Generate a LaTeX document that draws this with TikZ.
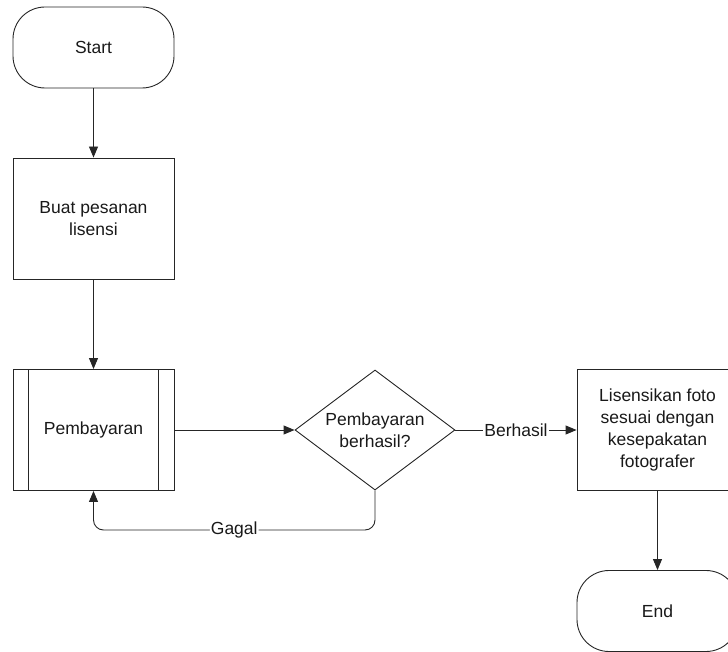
\documentclass[tikz,border=0pt]{standalone}
\usepackage{fontspec}
\setmainfont{Liberation Sans}
\usetikzlibrary{arrows.meta,shapes.geometric}
\begin{document}
\begin{tikzpicture}[x=1pt,y=-1pt,
  every node/.style={font=\fontsize{17.5}{22}\selectfont, text=black!90},
  base/.style={draw=black!85, line width=0.9pt, align=center, inner sep=0pt},
  terminal/.style={base, rectangle, rounded corners=32pt, minimum width=161pt, minimum height=81pt},
  process/.style={base, rectangle, minimum width=161pt, minimum height=121pt},
  decision/.style={base, diamond, aspect=1.333, minimum width=160pt, minimum height=120pt},
  flow/.style={draw=black!85, line width=0.9pt, -{Triangle[length=11pt,width=9pt]}},
  tag/.style={fill=white, inner sep=1pt}]
\useasboundingbox (0,0) rectangle (728,652);

% main column
\node[terminal] (start) at (93.5,47.5) {Start};
\node[process] (order) at (93.5,218.5) {Buat pesanan\\lisensi};
\node[process] (pay) at (93.5,430) {Pembayaran};
\draw[line width=0.9pt, draw=black!85]
  ([xshift=16pt]pay.north west) -- ([xshift=16pt]pay.south west)
  ([xshift=-16pt]pay.north east) -- ([xshift=-16pt]pay.south east);

% decision and success branch
\node[decision] (check) at (375,430) {Pembayaran\\berhasil?};
\node[process] (grant) at (657.5,430) {Lisensikan foto\\sesuai dengan\\kesepakatan\\fotografer};
\node[terminal] (end) at (657.5,611) {End};

% connectors
\draw[flow] (start) -- (order);
\draw[flow] (order) -- (pay);
\draw[flow] (pay) -- (check);
\draw[flow] (check) -- node[tag] {Berhasil} (grant);
\draw[flow] (grant) -- (end);
\coordinate (loopR) at (375,530);
\coordinate (loopL) at (93.5,530);
\draw[flow, rounded corners=10pt] (check.south) -- (loopR) -- node[tag, pos=0.5] {Gagal} (loopL) -- (pay.south);
\end{tikzpicture}
\end{document}
